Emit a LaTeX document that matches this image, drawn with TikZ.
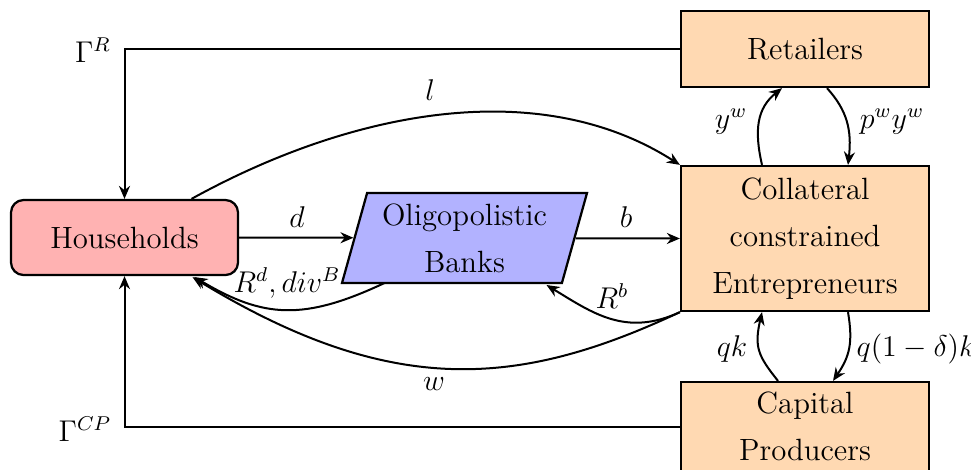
\documentclass[tikz,border=0pt]{standalone}
\usetikzlibrary{shapes.geometric,arrows.meta,calc}
\begin{document}
\begin{tikzpicture}[x=0.4pt,y=-0.4pt,
  font=\fontsize{12.3}{18.8}\selectfont,
  box/.style={draw=black, line width=0.9pt, fill=orange!30, minimum width=99.2pt, align=center, inner sep=0pt},
  conn/.style={line width=0.8pt, -{Stealth[length=5.2pt,width=4.4pt,inset=1.7pt]}},
  lbl/.style={inner sep=0pt, font=\fontsize{11.6}{14}\selectfont}]
\useasboundingbox (0,0) rectangle (971,469);
% nodes
\node[draw, line width=0.9pt, rounded corners=5pt, fill=red!30, minimum width=90.8pt, minimum height=30pt, inner sep=0pt] (H) at (124.5,237.5) {Households};
\node[trapezium, trapezium left angle=70, trapezium right angle=110, trapezium stretches body, draw, line width=0.9pt, fill=blue!30, minimum width=98pt, minimum height=36pt, inner sep=0pt, align=center] (B) at (464.5,238) {Oligopolistic\\Banks};
\node[box, minimum height=30.4pt] (R) at (805,49) {Retailers};
\node[box, minimum height=58pt] (E) at (805,238.5) {Collateral\\constrained\\Entrepreneurs};
\node[box, minimum height=35.6pt] (CP) at (805,426.5) {Capital\\Producers};
% straight flows
\draw[conn] (H.east) -- (B);
\draw[conn] (B) -- (E.west);
\node[lbl] (ld) at (297,217) {$d$};
\node[lbl] (lb) at (626,217) {$b$};
\draw[conn] (R.west) -| (H.north);
\draw[conn] (CP.west) -| (H.south);
\node[lbl] (gR) at (93,50) {$\Gamma^R$};
\node[lbl] (gCP) at (85,429) {$\Gamma^{CP}$};
% curved flows
\draw[conn] ($(H.north)+(67,0)$) .. controls +(163,-90) and +(-139,-89) .. (E.north west);
\node[lbl] (ll) at (430,90) {$l$};
\draw[conn] (E.south west) .. controls +(-160,75) and +(200,122) .. ($(H.south)+(68,1)$);
\node[lbl] (lw) at (434,384) {$w$};
\draw[conn] ($(B.center)+(-80,45)$) .. controls +(-81,38) and +(69,41) .. ($(H.south)+(70,1)$);
\node[lbl] (lrd) at (287,283) {$R^d,div^B$};
\draw[conn] (E.south west) .. controls +(-54,25) and +(46,28) .. ($(B.center)+(82,47)$);
\node[lbl] (lrb) at (612,296) {$R^b$};
% vertical loops
\draw[conn] ($(E.north)+(-43,0)$) .. controls +(-8,-35) and +(-25,20) .. ($(R.south)+(-23,0)$);
\node[lbl] (lyw) at (731,122) {$y^w$};
\draw[conn] ($(R.south)+(22,0)$) .. controls +(20,22) and +(4,-35) .. ($(E.north)+(43,0)$);
\node[lbl] (lpw) at (892,122) {$p^wy^w$};
\draw[conn] ($(CP.north)+(-27,0)$) .. controls +(-20,-25) and +(-8,35) .. ($(E.south)+(-43,0)$);
\node[lbl] (lqk) at (732,349) {$qk$};
\draw[conn] ($(E.south)+(43,0)$) .. controls +(5,30) and +(17,-25) .. ($(CP.north)+(28,0)$);
\node[lbl] (lqd) at (916,349) {$q(1-\delta)k$};
\end{tikzpicture}
\end{document}
